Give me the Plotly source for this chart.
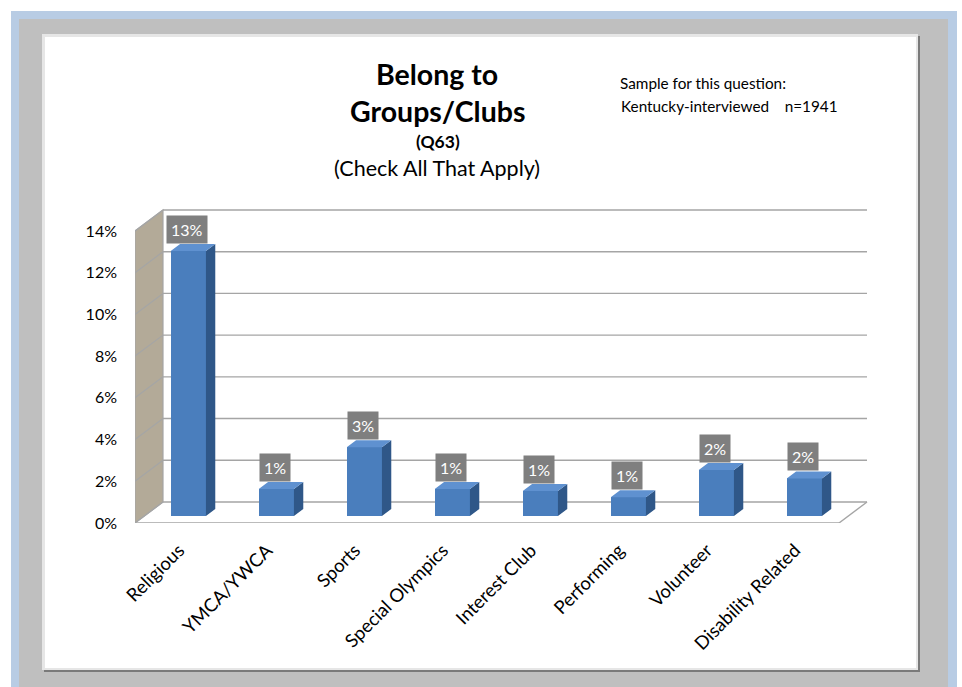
import plotly.graph_objects as go

# ---- data -------------------------------------------------------------
categories = ["Religious", "YMCA/YWCA", "Sports", "Special Olympics",
              "Interest Club", "Performing", "Volunteer", "Disability Related"]
values = [12.7, 1.3, 3.3, 1.3, 1.2, 0.9, 2.2, 1.8]          # percent
y_ticks = [0, 2, 4, 6, 8, 10, 12, 14]
y_tick_text = [f"{v}%" for v in y_ticks]

# ---- geometry of the oblique 3-D look ---------------------------------
W, H = 962, 687
PX_PER_CAT = 88.0          # horizontal pixels per category slot
PX_PER_PCT = 20.86         # vertical pixels per percentage point
DEPTH_PX = (28.0, 21.0)    # full floor depth projected (right, up)
DX = DEPTH_PX[0] / PX_PER_CAT
DY = DEPTH_PX[1] / PX_PER_PCT
BAR_FRONT = 1 / 3          # bars sit in the middle third of the depth
BAR_DEPTH = 1 / 3
BAR_W = 0.40

M_L, M_B = 135, H - 523
PLOT_TOP, PLOT_RIGHT = 190, 885
M_T, M_R = PLOT_TOP, W - PLOT_RIGHT
x_max = (PLOT_RIGHT - M_L) / PX_PER_CAT
y_max = (H - M_B - PLOT_TOP) / PX_PER_PCT
plot_w = W - M_L - M_R
plot_h = H - M_T - M_B


def px(xp, yp):
    """Pixel position -> paper coordinates."""
    return (xp - M_L) / plot_w, 1 - (yp - M_T) / plot_h


FONT = "Lato, 'Open Sans', sans-serif"
GRID = "#a5a5a5"
WALL = "#b3aa98"
FRONT = "#4a7ebd"
SIDE = "#2f5788"
TOP = "#5f91d0"

fig = go.Figure()
shapes = []


# ---- frame: blue band, gray mat, white panel (paper coordinates) -------
def rect(x0, y0, x1, y1, fill):
    a, b = px(x0, y0)
    c, d = px(x1, y1)
    shapes.append(dict(type="rect", xref="paper", yref="paper",
                       x0=a, y0=d, x1=c, y1=b, layer="below",
                       fillcolor=fill, line=dict(width=0)))


rect(11, 11, 957, H + 5, "#b8cce4")
rect(19, 19, 948, H + 5, "#bfbfbf")
rect(44, 36, 920, 672, "#7a7a7a")
rect(42, 34, 918, 670, "#e6e6e6")
rect(45, 37, 916, 668, "#ffffff")


# ---- walls, floor and grid (data coordinates, under the bars) ----------
def seg(x0, y0, x1, y1, width=1.4):
    shapes.append(dict(type="line", xref="x", yref="y", layer="below",
                       x0=x0, y0=y0, x1=x1, y1=y1,
                       line=dict(color=GRID, width=width)))


n = len(categories)
top_v = y_ticks[-1]
shapes.append(dict(type="path", xref="x", yref="y", layer="below",
                   path=f"M 0,0 L {DX},{DY} L {DX},{top_v + DY} L 0,{top_v} Z",
                   fillcolor=WALL, line=dict(color=GRID, width=1.2)))
for v in y_ticks:
    seg(0, v, DX, v + DY, 1.2)          # diagonal on the side wall
    seg(DX, v + DY, n + DX, v + DY)     # horizontal on the back wall
seg(0, 0, n, 0)                          # floor front edge
seg(n, 0, n + DX, DY)                    # floor right edge

# ---- bars: front face, side face, top face ----------------------------
base = BAR_FRONT * DY
bdx, bdy = BAR_DEPTH * DX, BAR_DEPTH * DY
centers = [i + 0.5 + BAR_FRONT * DX for i in range(n)]
fig.add_trace(go.Bar(x=centers, y=values, base=[base] * n,
                     width=BAR_W, marker=dict(color=FRONT, line=dict(width=0)),
                     hoverinfo="skip", cliponaxis=False))
sx, sy, tx, ty = [], [], [], []
for c, v in zip(centers, values):
    xl, xr, top = c - BAR_W / 2, c + BAR_W / 2, base + v
    sx += [xr, xr + bdx, xr + bdx, xr, xr, None]
    sy += [base, base + bdy, top + bdy, top, base, None]
    tx += [xl, xl + bdx, xr + bdx, xr, xl, None]
    ty += [top, top + bdy, top + bdy, top, top, None]
fig.add_trace(go.Scatter(x=sx, y=sy, mode="lines", fill="toself",
                         fillcolor=SIDE, line=dict(width=0, color=SIDE),
                         hoverinfo="skip", cliponaxis=False))
fig.add_trace(go.Scatter(x=tx, y=ty, mode="lines", fill="toself",
                         fillcolor=TOP, line=dict(width=0, color=TOP),
                         hoverinfo="skip", cliponaxis=False))

# value labels
for c, v in zip(centers, values):
    fig.add_annotation(x=c - 0.01, y=base + v + bdy, text=f"{v:.0f}%",
                       showarrow=False, yanchor="bottom", yshift=0,
                       bgcolor="#7f7f7f", borderpad=4,
                       font=dict(family=FONT, size=16, color="white"))


# ---- titles -----------------------------------------------------------
def text(xp, yp, s, size, bold=False, anchor="center"):
    a, b = px(xp, yp)
    fig.add_annotation(x=a, y=b, xref="paper", yref="paper", text=s,
                       showarrow=False, xanchor=anchor, yanchor="middle",
                       font=dict(family=FONT, size=size, color="black",
                                 weight="bold" if bold else "normal"))


text(437, 74, "Belong to", 28.5, True)
text(437, 111, "Groups/Clubs", 28.5, True)
text(438, 141, "(Q63)", 17.5, True)
text(437, 168, "(Check All That Apply)", 21.5)
text(618, 83, "Sample for this question:", 15.3, anchor="left")
text(619, 106, "Kentucky-interviewed&nbsp;&nbsp;&nbsp;&nbsp;n=1941", 15.3,
     anchor="left")

fig.update_layout(
    width=W, height=H,
    margin=dict(l=M_L, r=M_R, t=M_T, b=M_B, pad=0),
    paper_bgcolor="white", plot_bgcolor="rgba(0,0,0,0)",
    showlegend=False, shapes=shapes, bargap=0,
    xaxis=dict(range=[0, x_max], tickvals=[i + 0.5 for i in range(n)],
               ticktext=categories, tickangle=-45, ticks="",
               showgrid=False, zeroline=False, showline=False,
               ticklabelstandoff=12,
               tickfont=dict(family=FONT, size=18.5, color="black")),
    yaxis=dict(range=[0, y_max], tickvals=y_ticks, ticktext=y_tick_text,
               ticks="", showgrid=False, zeroline=False, showline=False,
               ticklabelstandoff=17,
               tickfont=dict(family=FONT, size=16, color="black")),
)

fig.write_html("out.html")
